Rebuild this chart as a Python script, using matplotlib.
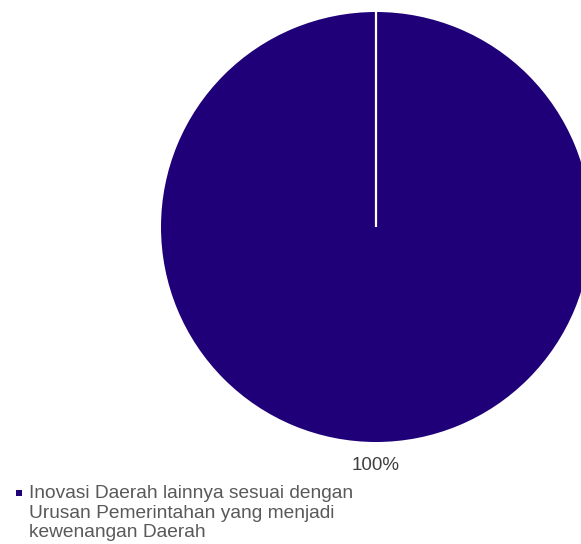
import matplotlib.pyplot as plt
from matplotlib.patches import Rectangle
import numpy as np

# Data
kategori = ["Inovasi Daerah lainnya sesuai dengan\nUrusan Pemerintahan yang menjadi\nkewenangan Daerah"]
nilai = [100]
warna = ["#1f0078"]

plt.rcParams['font.family'] = ['Liberation Sans', 'DejaVu Sans']

W, H = 581, 544
fig = plt.figure(figsize=(W / 100, H / 100), dpi=100)

# Pie axes placed in pixel coordinates (centre 376,227, radius 215)
cx, cy, r = 376, 227, 215
ax = fig.add_axes([(cx - r) / W, (H - cy - r) / H, 2 * r / W, 2 * r / H])
wedges, teks, pct = ax.pie(nilai, colors=warna, startangle=90, counterclock=False,
                           autopct='%1.0f%%', pctdistance=1.11, radius=1,
                           textprops=dict(color='#404040', fontsize=13.5))
ax.set_xlim(-1, 1)
ax.set_ylim(-1, 1)
ax.set_aspect('auto')
ax.axis('off')

# white slice boundary at the start angle
for w in wedges:
    th = np.deg2rad(w.theta2 if w.theta2 % 360 else w.theta1)
    x0, y0 = w.center
    ax.plot([x0, x0 + w.r * np.cos(th)], [y0, y0 + w.r * np.sin(th)],
            color='white', lw=1.6, solid_capstyle='butt')

# Legend under the pie
y_top = 485
for i, (k, c) in enumerate(zip(kategori, warna)):
    fig.add_artist(Rectangle((16 / W, 1 - 496 / H), 6 / W, 6 / H,
                             transform=fig.transFigure, color=c, lw=0))
    fig.text(29 / W, 1 - y_top / H, k, ha='left', va='top', fontsize=13.8,
             color='#595959', linespacing=1.2)

fig.savefig('out.png', dpi=100)
